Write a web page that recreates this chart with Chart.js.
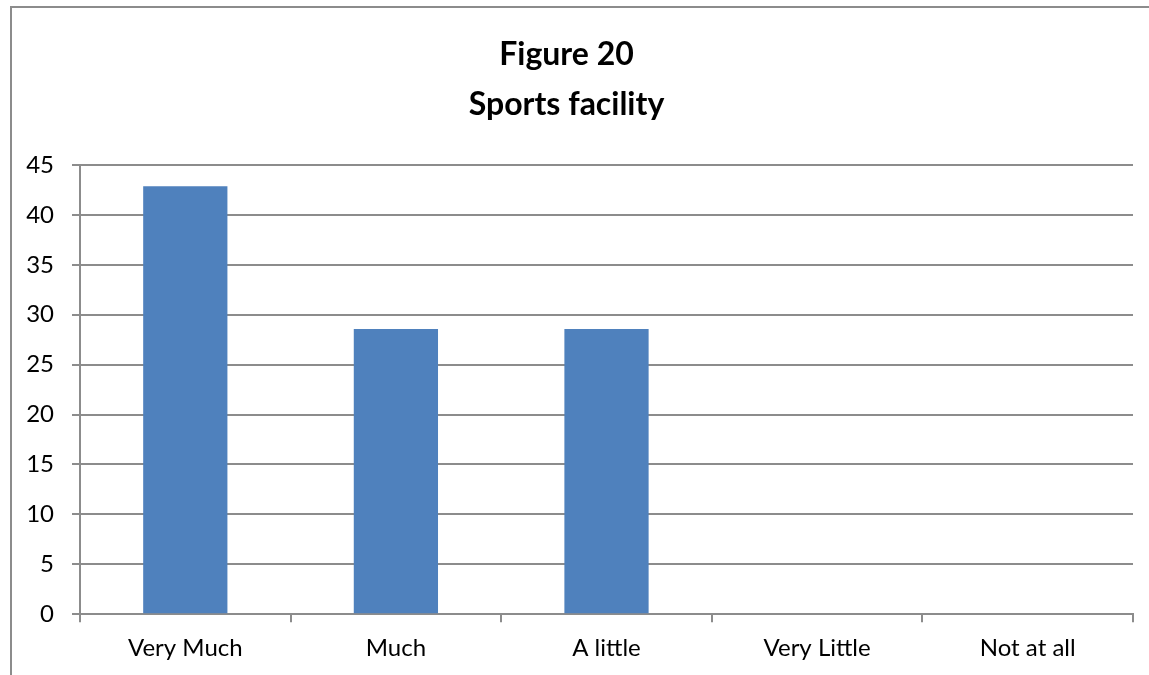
<!DOCTYPE html>
<html>
<head>
<meta charset="utf-8">
<script src="https://cdn.jsdelivr.net/npm/chart.js@4"></script>
<style>
  html, body { margin: 0; padding: 0; background: #fff; }
  #wrap { position: relative; width: 1149px; height: 675px; overflow: hidden; }
  #frame { position: absolute; left: 10px; top: 6px; width: 2000px; height: 2000px;
           border-left: 2px solid #8c8c8c; border-top: 2px solid #8c8c8c; }
  #chart { position: absolute; left: 0; top: 0; }
</style>
</head>
<body>
<div id="wrap">
  <div id="frame"></div>
  <canvas id="chart" width="1149" height="675"></canvas>
</div>
<script>
// Figure 20 - Sports facility
const categories = ['Very Much', 'Much', 'A little', 'Very Little', 'Not at all'];
const values = [42.86, 28.57, 28.57, 0, 0];
const yTicks = [0, 5, 10, 15, 20, 25, 30, 35, 40, 45];

const gridGray = '#8c8c8c';
const fontFamily = "Lato, 'Open Sans', sans-serif";

const ctx = document.getElementById('chart').getContext('2d');
const chart = new Chart(ctx, {
    type: 'bar',
    data: {
        labels: categories,
        datasets: [{
            label: 'Sports facility',
            data: values,
            backgroundColor: '#4f81bd',
            borderWidth: 0,
            barPercentage: 0.4,
            categoryPercentage: 1
        }]
    },
    options: {
        responsive: false,
        animation: false,
        layout: { padding: { top: 30, right: 16, bottom: 0, left: 0 } },
        plugins: {
            legend: { display: false },
            tooltip: { enabled: false },
            title: {
                display: true,
                text: ['Figure 20', 'Sports facility'],
                color: '#000',
                font: { family: fontFamily, size: 32, weight: 'bold', lineHeight: 1.5625 },
                padding: { top: 0, bottom: 35 }
            }
        },
        scales: {
            x: {
                grid: { display: true, drawOnChartArea: false, color: gridGray, lineWidth: 2, tickLength: 8, offset: true },
                border: { color: gridGray, width: 2 },
                ticks: { color: '#000', font: { family: fontFamily, size: 24 }, padding: 12, maxRotation: 0 }
            },
            y: {
                min: 0,
                max: 45,
                afterFit: (scale) => { scale.width = 80; },
                afterBuildTicks: (scale) => { scale.ticks = yTicks.map(v => ({ value: v })); },
                grid: { color: gridGray, lineWidth: 2, tickLength: 8 },
                border: { color: gridGray, width: 2 },
                ticks: { color: '#000', font: { family: fontFamily, size: 24 }, padding: 18 }
            }
        }
    }
});
</script>
</body>
</html>
